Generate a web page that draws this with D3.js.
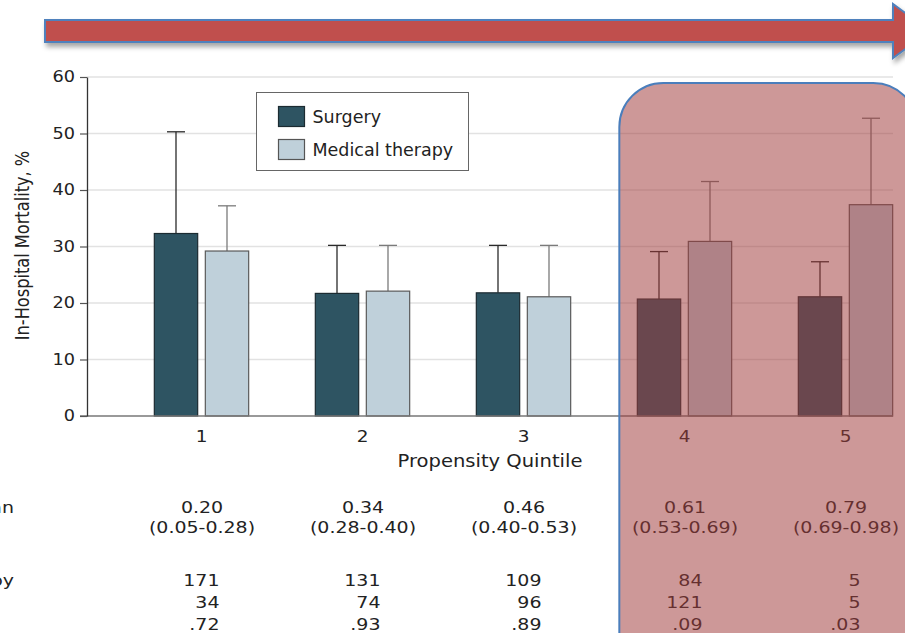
<!DOCTYPE html>
<html>
<head>
<meta charset="utf-8">
<script src="https://cdn.jsdelivr.net/npm/d3@7"></script>
<style>
  body { margin: 0; background: #fff; }
  svg { display: block; }
</style>
</head>
<body>
<script>
// In-hospital mortality by propensity quintile, surgery vs medical therapy
const quintiles = ["1", "2", "3", "4", "5"];
const seriesNames = ["Surgery", "Medical therapy"];
const surgeryPct = [32.3, 21.7, 21.8, 20.7, 21.1];
const surgeryUpper = [50.3, 30.2, 30.2, 29.1, 27.3];
const medicalPct = [29.2, 22.1, 21.1, 30.9, 37.4];
const medicalUpper = [37.2, 30.2, 30.2, 41.5, 52.7];
const yTicks = [0, 10, 20, 30, 40, 50, 60];

// Table under the chart
const medianScore = ["0.20", "0.34", "0.46", "0.61", "0.79"];
const scoreRange = ["(0.05-0.28)", "(0.28-0.40)", "(0.40-0.53)", "(0.53-0.69)", "(0.69-0.98)"];
const nMedical = ["171", "131", "109", "84", "5"];
const nSurgery = ["34", "74", "96", "121", "5"];
const pValues = [".72", ".93", ".89", ".09", ".03"];
const rowLabels = ["Median", "Medical therapy"];

const W = 905, H = 633;
const FONT = "'DejaVu Sans', Verdana, sans-serif";
const TXT = "#222";

const svg = d3.select("body").append("svg")
  .attr("width", W).attr("height", H)
  .attr("viewBox", `0 0 ${W} ${H}`);

const defs = svg.append("defs");
const sh = defs.append("filter").attr("id", "arrowShadow")
  .attr("x", "-10%").attr("y", "-50%").attr("width", "130%").attr("height", "220%");
sh.append("feDropShadow").attr("dx", 2).attr("dy", 4).attr("stdDeviation", 2.5)
  .attr("flood-color", "#000").attr("flood-opacity", 0.35);
const blur = defs.append("filter").attr("id", "edgeBlur")
  .attr("x", "-200%").attr("y", "-10%").attr("width", "500%").attr("height", "120%");
blur.append("feGaussianBlur").attr("stdDeviation", 1.5);

// Scales
const y = d3.scaleLinear().domain([0, 60]).range([416, 77]);
const x = d3.scaleBand().domain(quintiles).range([121, 926])
  .paddingInner(0.414).paddingOuter(0.207);
const xs = d3.scaleBand().domain(seriesNames).range([0, x.bandwidth()]).paddingInner(0.15);
const cx = q => x(q) + x.bandwidth() / 2;

// Horizontal text with a slight widening
function wideText(g, tx, ty, str, size, sx, anchor) {
  return g.append("text")
    .attr("transform", `translate(${tx},${ty}) scale(${sx},1)`)
    .attr("text-anchor", anchor || "middle")
    .attr("font-family", FONT).attr("font-size", size)
    .attr("fill", TXT).text(str);
}

// Direction arrow along the top
svg.append("path")
  .attr("d", "M45,20 H893 V4 L930,31 L893,58 V42 H45 Z")
  .attr("fill", "#c0504d").attr("stroke", "#4f81bd").attr("stroke-width", 2)
  .attr("filter", "url(#arrowShadow)");

// Gridlines
svg.append("g").selectAll("line")
  .data(yTicks.filter(t => t > 0))
  .join("line")
  .attr("x1", 87).attr("x2", 893)
  .attr("y1", d => y(d)).attr("y2", d => y(d))
  .attr("stroke", "#e2e2e2").attr("stroke-width", 1.5);

// Legend
const leg = svg.append("g");
leg.append("rect").attr("x", 256.5).attr("y", 92.5).attr("width", 212).attr("height", 78)
  .attr("fill", "#fff").attr("stroke", "#666").attr("stroke-width", 1);
const legColors = ["#2e5462", "#bfd0da"];
const legStroke = ["#1c2b31", "#555"];
seriesNames.forEach((s, i) => {
  leg.append("rect").attr("x", 278.5).attr("y", 106.5 + i * 33).attr("width", 26).attr("height", 20)
    .attr("fill", legColors[i]).attr("stroke", legStroke[i]).attr("stroke-width", 1.2);
  leg.append("text").attr("x", 312.5).attr("y", 123 + i * 33)
    .attr("font-family", FONT).attr("font-size", 17.5).attr("fill", TXT).text(s);
});

// Bars and error bars
const rows = quintiles.map((q, i) => ({
  q,
  vals: [
    { s: seriesNames[0], v: surgeryPct[i], hi: surgeryUpper[i] },
    { s: seriesNames[1], v: medicalPct[i], hi: medicalUpper[i] }
  ]
}));
const barFill = { "Surgery": "#2e5462", "Medical therapy": "#bfd0da" };
const barStroke = { "Surgery": "#1c2b31", "Medical therapy": "#5a5a5a" };
const errStroke = { "Surgery": "#2a2a2a", "Medical therapy": "#7a7a7a" };

const groups = svg.append("g").selectAll("g").data(rows).join("g")
  .attr("transform", d => `translate(${x(d.q)},0)`);

groups.selectAll("line.err").data(d => d.vals).join("line")
  .attr("class", "err")
  .attr("x1", d => xs(d.s) + xs.bandwidth() / 2).attr("x2", d => xs(d.s) + xs.bandwidth() / 2)
  .attr("y1", d => y(d.v)).attr("y2", d => y(d.hi))
  .attr("stroke", d => errStroke[d.s]).attr("stroke-width", 1.3);
groups.selectAll("line.cap").data(d => d.vals).join("line")
  .attr("class", "cap")
  .attr("x1", d => xs(d.s) + xs.bandwidth() / 2 - 9).attr("x2", d => xs(d.s) + xs.bandwidth() / 2 + 9)
  .attr("y1", d => y(d.hi)).attr("y2", d => y(d.hi))
  .attr("stroke", d => errStroke[d.s]).attr("stroke-width", 1.3);
groups.selectAll("rect").data(d => d.vals).join("rect")
  .attr("x", d => xs(d.s)).attr("width", xs.bandwidth())
  .attr("y", d => y(d.v)).attr("height", d => y(0) - y(d.v))
  .attr("fill", d => barFill[d.s]).attr("stroke", d => barStroke[d.s]).attr("stroke-width", 1.2);

// Baseline
svg.append("line").attr("x1", 80).attr("x2", 893).attr("y1", y(0)).attr("y2", y(0))
  .attr("stroke", "#777").attr("stroke-width", 1.5);

// Y axis
const yAxis = svg.append("g").attr("transform", "translate(87,0)")
  .call(d3.axisLeft(y).tickValues(yTicks).tickSize(7).tickSizeOuter(0));
yAxis.select(".domain").attr("stroke", "#333").attr("stroke-width", 1.3);
yAxis.selectAll(".tick line").attr("stroke", "#555").attr("stroke-width", 1.2);
yAxis.selectAll(".tick text")
  .attr("x", -10.5).attr("transform", "scale(1.14,1)")
  .attr("font-family", FONT).attr("font-size", 15.5).attr("fill", TXT);

// Y axis title
svg.append("text")
  .attr("transform", "translate(28.5,245.5) scale(1.16,1) rotate(-90)")
  .attr("text-anchor", "middle")
  .attr("font-family", FONT).attr("font-size", 16.2).attr("fill", TXT)
  .text("In-Hospital Mortality, %");

// X axis tick labels and title
const xAxis = svg.append("g").attr("transform", `translate(0,${y(0)})`)
  .call(d3.axisBottom(x).tickSize(0).tickPadding(0));
xAxis.select(".domain").remove();
xAxis.selectAll(".tick text")
  .attr("y", 26).attr("dy", 0).attr("transform", "scale(1.12,1)")
  .attr("font-family", FONT).attr("font-size", 16.5).attr("fill", TXT);
wideText(svg, 490, 467, "Propensity Quintile", 17, 1.15);

// Table rows
const tbl = svg.append("g");
quintiles.forEach((q, i) => {
  const c = cx(q);
  wideText(tbl, c + 0.5, 513, medianScore[i], 16.5, 1.15);
  wideText(tbl, c + 0.5, 533, scoreRange[i], 16.5, 1.15);
  const r = c + (i === 4 ? 15 : 18);
  wideText(tbl, r, 586, nMedical[i], 16.5, 1.15, "end");
  wideText(tbl, r, 608, nSurgery[i], 16.5, 1.15, "end");
  wideText(tbl, r, 630, pValues[i], 16.5, 1.15, "end");
});
wideText(tbl, 14, 513, rowLabels[0], 16.5, 1.15, "end");
wideText(tbl, 14, 586, rowLabels[1], 16.5, 1.15, "end");

// Highlight over the two highest quintiles
const hx = x(quintiles[3]) - 18;
svg.append("line").attr("x1", hx - 3).attr("x2", hx - 3).attr("y1", 125).attr("y2", H + 10)
  .attr("stroke", "#999").attr("stroke-width", 2).attr("opacity", 0.5)
  .attr("filter", "url(#edgeBlur)");
svg.append("rect")
  .attr("x", hx).attr("y", 83).attr("width", 298).attr("height", 620)
  .attr("rx", 44).attr("ry", 44)
  .attr("fill", "rgb(160,60,60)").attr("fill-opacity", 0.53)
  .attr("stroke", "#4a7ebc").attr("stroke-width", 2);
</script>
</body>
</html>
